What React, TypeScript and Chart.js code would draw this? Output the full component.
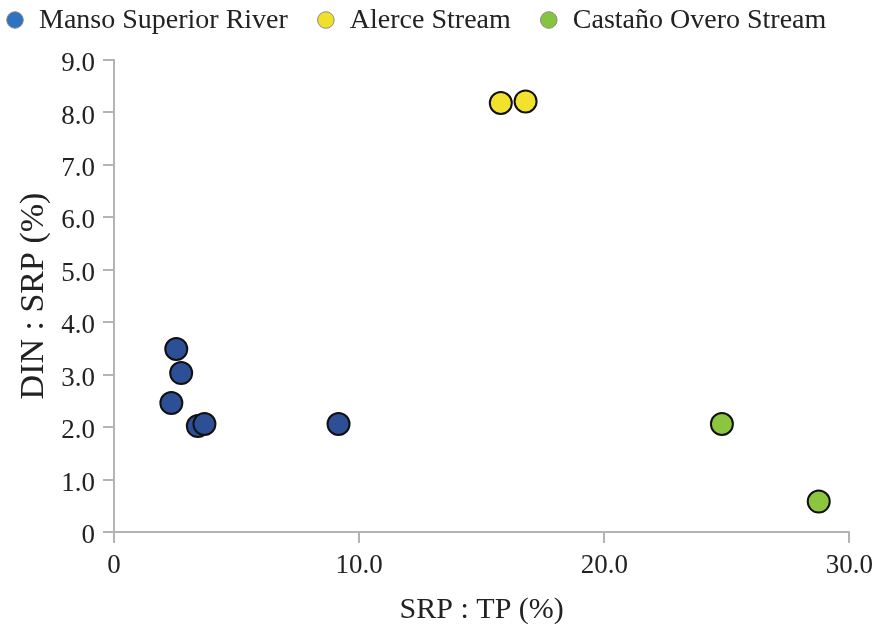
import React, { useEffect, useRef } from "react";
import { Chart, registerables } from "chart.js";

Chart.register(...registerables);

// Series labels and colours
const seriesNames = ["Manso Superior River", "Alerce Stream", "Castaño Overo Stream"];
const markerColors = ["#2c4f96", "#f2e22e", "#8cc63f"];
const legendColors = ["#2f72c0", "#f0e02a", "#86c440"];

// SRP : TP (%) and DIN : SRP (%) per site
const mansoX = [2.54, 2.74, 2.34, 3.42, 3.69, 9.16];
const mansoY = [3.49, 3.03, 2.46, 2.02, 2.06, 2.06];
const alerceX = [15.78, 16.79];
const alerceY = [8.18, 8.21];
const castanoX = [24.8, 28.75];
const castanoY = [2.06, 0.58];

// Axis tick values and labels
const xTickValues = [0, 10, 20, 30];
const xTickLabels = ["0", "10.0", "20.0", "30.0"];
const yTickValues = [0, 1, 2, 3, 4, 5, 6, 7, 8, 9];
const yTickLabels = ["0", "1.0", "2.0", "3.0", "4.0", "5.0", "6.0", "7.0", "8.0", "9.0"];

const SERIF = "'Liberation Serif', 'Times New Roman', serif";
const AXIS_GRAY = "#b4b4b4";
const TEXT = "#222222";

const toPoints = (xs: number[], ys: number[]) => xs.map((x, i) => ({ x, y: ys[i] }));

// Legend row drawn across the top of the canvas
const seriesLegend = {
  id: "seriesLegend",
  afterDraw(chart: any) {
    const ctx = chart.ctx as CanvasRenderingContext2D;
    ctx.save();
    ctx.font = `28px ${SERIF}`;
    ctx.textBaseline = "alphabetic";
    ctx.textAlign = "left";
    let x = 15;
    chart.data.datasets.forEach((ds: any, i: number) => {
      ctx.beginPath();
      ctx.arc(x, 20, 8.3, 0, Math.PI * 2);
      ctx.fillStyle = legendColors[i];
      ctx.fill();
      ctx.lineWidth = 1;
      ctx.strokeStyle = "#8a8a8a";
      ctx.stroke();
      ctx.fillStyle = TEXT;
      const tx = x + 24;
      ctx.fillText(ds.label, tx, 28);
      x = tx + ctx.measureText(ds.label).width + 38;
    });
    ctx.restore();
  },
};

export default function App() {
  const canvasRef = useRef<HTMLCanvasElement | null>(null);

  useEffect(() => {
    if (!canvasRef.current) return;
    const series = [
      toPoints(mansoX, mansoY),
      toPoints(alerceX, alerceY),
      toPoints(castanoX, castanoY),
    ];
    const chart = new Chart(canvasRef.current, {
      type: "scatter",
      data: {
        datasets: series.map((data, i) => ({
          label: seriesNames[i],
          data,
          backgroundColor: markerColors[i],
          borderColor: "#111111",
          borderWidth: 2,
          pointRadius: 11,
          pointHoverRadius: 11,
          pointStyle: "circle",
        })),
      },
      options: {
        responsive: false,
        animation: false,
        layout: { padding: { top: 60, right: 26, bottom: 0, left: 0 } },
        plugins: {
          legend: { display: false },
          tooltip: { enabled: false },
        },
        scales: {
          x: {
            type: "linear",
            min: 0,
            max: 30,
            afterBuildTicks: (scale: any) => {
              scale.ticks = xTickValues.map((value) => ({ value }));
            },
            afterFit: (scale: any) => {
              scale.height = 94;
            },
            ticks: {
              padding: 7,
              color: TEXT,
              font: { family: SERIF, size: 27 },
              maxRotation: 0,
              callback: (v: any) => xTickLabels[xTickValues.indexOf(Number(v))] ?? "",
            },
            grid: {
              drawOnChartArea: false,
              drawTicks: true,
              tickLength: 11,
              color: AXIS_GRAY,
              lineWidth: 2,
            },
            border: { display: true, color: AXIS_GRAY, width: 2 },
            title: {
              display: true,
              text: "SRP : TP (%)",
              color: TEXT,
              font: { family: SERIF, size: 30, lineHeight: 1 },
              padding: { top: 0, bottom: 1 },
            },
          },
          y: {
            type: "linear",
            min: 0,
            max: 9,
            afterBuildTicks: (scale: any) => {
              scale.ticks = yTickValues.map((value) => ({ value }));
            },
            afterFit: (scale: any) => {
              scale.width = 114;
            },
            ticks: {
              padding: 8,
              labelOffset: 4,
              color: TEXT,
              font: { family: SERIF, size: 27 },
              callback: (v: any) => yTickLabels[yTickValues.indexOf(Number(v))] ?? "",
            },
            grid: {
              drawOnChartArea: false,
              drawTicks: true,
              tickLength: 11,
              color: AXIS_GRAY,
              lineWidth: 2,
            },
            border: { display: true, color: AXIS_GRAY, width: 2 },
            title: {
              display: true,
              text: "DIN : SRP (%)",
              color: TEXT,
              font: { family: SERIF, size: 34, lineHeight: 1 },
              padding: { top: 17, bottom: 0 },
            },
          },
        },
      },
      plugins: [seriesLegend],
    });
    return () => chart.destroy();
  }, []);

  return (
    <div style={{ position: "absolute", left: 0, top: 0, width: 880, height: 626, background: "#ffffff" }}>
      <canvas ref={canvasRef} width={880} height={626} />
    </div>
  );
}
